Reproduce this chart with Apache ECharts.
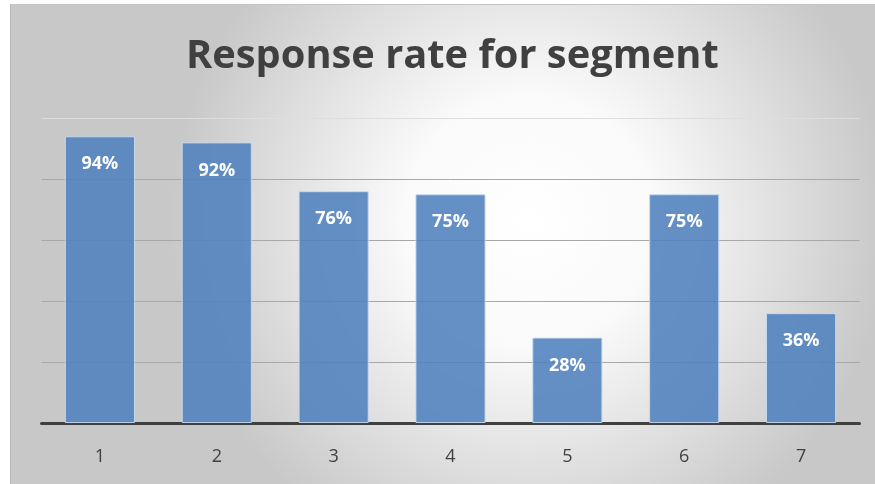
<!DOCTYPE html>
<html>
<head>
<meta charset="utf-8">
<script src="https://cdn.jsdelivr.net/npm/echarts@6/dist/echarts.min.js"></script>
<style>
  html, body { margin: 0; padding: 0; background: #ffffff; width: 875px; height: 484px; overflow: hidden; }
  #chart { position: absolute; left: 10px; top: 4px; width: 865px; height: 480px; border-top: 1px solid #c4c4c4; border-left: 1px solid #b8b8b8; box-sizing: border-box; }
</style>
</head>
<body>
<div id="chart"></div>
<script>
// Segments and their response rates (percent)
const segments = ['1', '2', '3', '4', '5', '6', '7'];
const responseRates = [94, 92, 76, 75, 28, 75, 36];
const titleText = 'Response rate for segment';

const chart = echarts.init(document.getElementById('chart'), null, { renderer: 'canvas' });

chart.setOption({
  backgroundColor: {
    type: 'radial', x: 0.6, y: 0.45, r: 0.75,
    colorStops: [
      { offset: 0, color: '#ffffff' },
      { offset: 0.35, color: '#fafafa' },
      { offset: 1, color: '#c8c8c8' }
    ]
  },
  animation: false,
  title: {
    text: titleText,
    left: 170,
    top: 27,
    textStyle: { fontFamily: 'Open Sans', fontWeight: 'bold', fontSize: 39.8, color: '#404040' }
  },
  grid: { left: 30.5, right: 15.5, top: 113, bottom: 61, containLabel: false },
  xAxis: {
    type: 'category',
    data: segments,
    axisLine: { show: true, lineStyle: { color: '#404040', width: 3 } },
    axisTick: { show: false },
    axisLabel: { fontFamily: 'Open Sans', fontSize: 18, color: '#404040', margin: 25 }
  },
  yAxis: {
    type: 'value',
    min: 0, max: 100, interval: 20,
    axisLine: { show: false },
    axisTick: { show: false },
    axisLabel: { show: false },
    splitLine: { lineStyle: { color: ['#a8a8a8', '#a8a8a8', '#a8a8a8', '#a8a8a8', '#a8a8a8', '#dedede'], width: 1 } }
  },
  series: [{
    type: 'bar',
    data: responseRates,
    barCategoryGap: '40%',
    itemStyle: { color: 'rgba(79,129,189,0.88)', borderColor: 'rgba(200,220,240,0.9)', borderWidth: 1 },
    label: {
      show: true,
      position: 'insideTop',
      distance: 19,
      formatter: p => p.value + '%',
      fontFamily: 'Open Sans', fontWeight: 'bold', fontSize: 18, color: '#ffffff'
    }
  }]
});
</script>
</body>
</html>
